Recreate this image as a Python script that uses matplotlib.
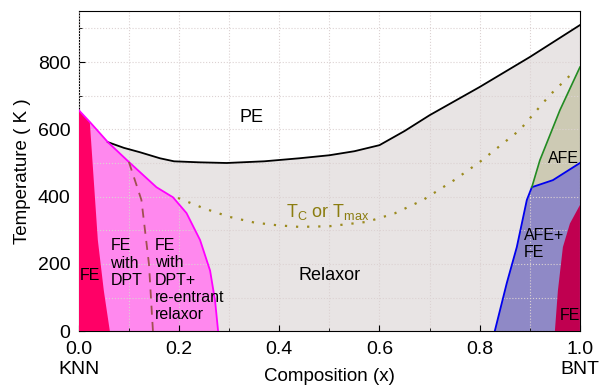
import numpy as np
import matplotlib.pyplot as plt
from matplotlib.ticker import MultipleLocator

plt.rcParams['font.family'] = ['Liberation Sans', 'DejaVu Sans']

# PE / relaxor boundary (black)
pe_x = [0.058, 0.09, 0.122, 0.162, 0.19, 0.24, 0.295, 0.37, 0.44, 0.50, 0.55, 0.60, 0.65, 0.70, 0.80, 0.90, 1.0]
pe_t = [562, 545, 532, 514, 505, 502, 500, 505, 514, 523, 535, 553, 595, 642, 726, 815, 910]

# FE with DPT boundary (magenta)
mg_x = [0.0, 0.022, 0.058, 0.10, 0.155, 0.188, 0.215, 0.242, 0.262, 0.272, 0.278]
mg_t = [657, 622, 562, 503, 428, 398, 351, 271, 180, 90, 0]

# FE region at KNN side
fe1_x = [0.0, 0.022, 0.038, 0.05, 0.062]
fe1_t = [657, 622, 271, 120, 0]

# re-entrant relaxor boundary (dashed)
ds_x = [0.10, 0.125, 0.14, 0.148]
ds_t = [503, 390, 200, 0]

# Tc or Tmax (dotted)
tc_x = [0.198, 0.25, 0.30, 0.35, 0.395, 0.44, 0.50, 0.575, 0.63, 0.687, 0.75, 0.80, 0.88, 0.94, 0.98]
tc_t = [396, 365, 340, 323, 315, 310, 312, 325, 350, 390, 450, 503, 598, 702, 760]

# AFE+FE boundary (blue)
bl_x = [0.83, 0.854, 0.874, 0.894, 0.904, 0.946, 1.0]
bl_t = [0, 143, 250, 390, 428, 449, 500]

# AFE boundary (green)
gr_x = [0.904, 0.92, 0.96, 1.0]
gr_t = [428, 508, 657, 785]

# FE region at BNT side
fe2_x = [0.95, 0.956, 0.966, 0.98, 1.0]
fe2_t = [0, 120, 250, 320, 375]

fig, ax = plt.subplots(figsize=(6.06, 3.91), dpi=100)
fig.subplots_adjust(left=0.13, right=0.957, top=0.972, bottom=0.153)

# relaxor background under PE line
rx = [0.0] + pe_x + [1.0, 0.0]
rt = [0] + pe_t + [0, 0]
ax.fill(rx, rt, color='#e8e4e4', lw=0, zorder=1)

# FE with DPT (pink)
ax.fill(mg_x + [0.0], mg_t + [0], color='#ff88ee', lw=0, zorder=2)
ax.fill(fe1_x + [0.0], fe1_t + [0], color='#ff0066', lw=0, zorder=3)

# AFE region
ax.fill(gr_x + bl_x[::-1][:3], gr_t + bl_t[::-1][:3], color='#cdcab4', lw=0, zorder=2)
# AFE+FE
ax.fill(bl_x + [1.0], bl_t + [0], color='#8f89c6', lw=0, zorder=2)
ax.fill(fe2_x + [1.0], fe2_t + [0], color='#c00050', lw=0, zorder=3)

ax.plot(pe_x, pe_t, color='black', lw=1.3, zorder=5)
ax.plot(mg_x, mg_t, color='#ff00ff', lw=1.3, zorder=5)
ax.plot(ds_x, ds_t, color='#a05050', lw=1.3, ls=(0, (5, 4)), zorder=5)
ax.plot(tc_x, tc_t, color='#9b8a1e', lw=1.6, ls=(0, (1, 4)), zorder=5)
ax.plot(bl_x, bl_t, color='#0000ee', lw=1.3, zorder=5)
ax.plot(gr_x, gr_t, color='#228b22', lw=1.2, zorder=5)

ax.set_xlim(0, 1)
ax.set_ylim(0, 952)
ax.xaxis.set_major_locator(MultipleLocator(0.2))
ax.xaxis.set_minor_locator(MultipleLocator(0.1))
ax.yaxis.set_major_locator(MultipleLocator(200))
ax.yaxis.set_minor_locator(MultipleLocator(100))
ax.grid(True, which='both', color='#dcd2d2', ls=':', lw=0.8, zorder=4)
ax.set_axisbelow(False)
ax.tick_params(which='both', direction='in', labelsize=14)
ax.tick_params(which='major', length=4)
ax.tick_params(which='minor', length=2.5)
ax.tick_params(axis='x', pad=7)
ax.tick_params(axis='y', pad=6)
ax.set_xticklabels([f'{v:.1f}' for v in ax.get_xticks()])

ax.set_xlabel('Composition (x)', fontsize=13.5, labelpad=7)
ax.set_ylabel('Temperature ( K )', fontsize=13.5, labelpad=5)

ax.text(0.0, -0.12, 'KNN', transform=ax.transAxes, ha='center', va='center', fontsize=14)
ax.text(1.0, -0.12, 'BNT', transform=ax.transAxes, ha='center', va='center', fontsize=14)

fs = 11.5
ls_ = 1.2
ax.text(0.345, 636, 'PE', ha='center', va='center', fontsize=13, zorder=6)
ax.text(0.5, 167, 'Relaxor', ha='center', va='center', fontsize=13, zorder=6)
ax.text(0.497, 354, r'T$_{\mathregular{C}}$ or T$_{\mathregular{max}}$', ha='center', va='center',
        fontsize=13, color='#8b7d10', zorder=6)
ax.text(0.022, 167, 'FE', ha='center', va='center', fontsize=fs, zorder=6)
ax.text(0.063, 202, 'FE\nwith\nDPT', ha='left', va='center', fontsize=fs, linespacing=ls_, zorder=6)
ax.text(0.152, 152, 'FE\nwith\nDPT+\nre-entrant\nrelaxor', ha='left', va='center', fontsize=fs,
        linespacing=ls_, zorder=6)
ax.text(0.968, 514, 'AFE', ha='center', va='center', fontsize=fs, zorder=6)
ax.text(0.888, 259, 'AFE+\nFE', ha='left', va='center', fontsize=fs, linespacing=ls_, zorder=6)
ax.text(0.98, 48, 'FE', ha='center', va='center', fontsize=fs, zorder=6)

fig.savefig('out.png', dpi=100)
